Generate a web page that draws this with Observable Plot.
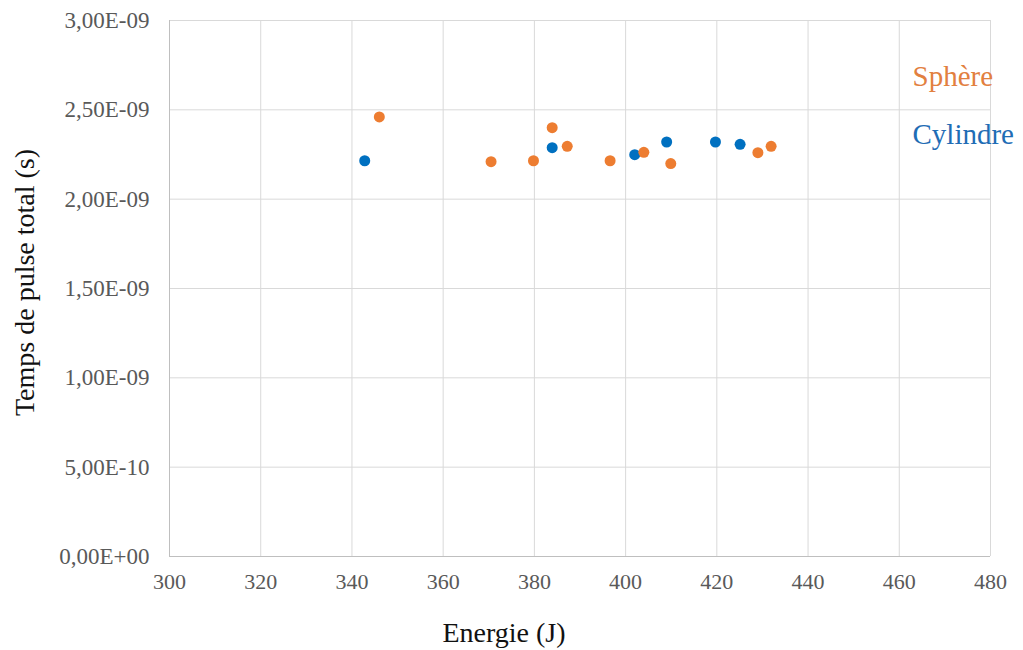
<!DOCTYPE html>
<html>
<head>
<meta charset="utf-8">
<script src="https://cdn.jsdelivr.net/npm/d3@7"></script>
<script src="https://cdn.jsdelivr.net/npm/@observablehq/plot@0.6"></script>
<style>
  html, body { margin: 0; padding: 0; background: #fff; }
  #chart { width: 1023px; height: 650px; }
  #chart svg, #chart svg text { font-family: "Liberation Serif", "Times New Roman", serif !important; }
</style>
</head>
<body>
<div id="chart"></div>
<script>
// Series: Sphère (orange)
const sphereEnergy = [346.0, 370.5, 379.8, 383.9, 387.2, 396.6, 404.0, 409.9, 429.0, 431.9];
const sphereTime   = [2.46e-9, 2.21e-9, 2.215e-9, 2.40e-9, 2.296e-9, 2.215e-9, 2.262e-9, 2.199e-9, 2.26e-9, 2.296e-9];
// Series: Cylindre (blue)
const cylEnergy = [342.8, 383.9, 402.0, 409.0, 419.7, 425.1];
const cylTime   = [2.215e-9, 2.288e-9, 2.249e-9, 2.32e-9, 2.32e-9, 2.307e-9];

// Axis ticks
const xTicks = [300, 320, 340, 360, 380, 400, 420, 440, 460, 480];
const yTicks = [0, 5e-10, 1e-9, 1.5e-9, 2e-9, 2.5e-9, 3e-9];
const yTickLabels = ["0,00E+00", "5,00E-10", "1,00E-09", "1,50E-09", "2,00E-09", "2,50E-09", "3,00E-09"];

const seriesNames = ["Sphère", "Cylindre"];
const seriesColors = ["#ED7D31", "#0070C0"];
const legendColors = ["#E2803F", "#1F6DB5"];

const xTitle = "Energie (J)";
const yTitle = "Temps de pulse total (s)";

const sphere = sphereEnergy.map((e, i) => ({energy: e, time: sphereTime[i]}));
const cyl = cylEnergy.map((e, i) => ({energy: e, time: cylTime[i]}));

const font = "Liberation Serif";

const chart = Plot.plot({
  width: 1023,
  height: 650,
  marginLeft: 169,
  marginRight: 33,
  marginTop: 20,
  marginBottom: 94,
  style: {fontFamily: font, background: "#fff", overflow: "visible"},
  x: {domain: [300, 480], ticks: xTicks},
  y: {domain: [0, 3e-9], ticks: yTicks},
  marks: [
    Plot.gridX(xTicks, {stroke: "#d9d9d9", strokeOpacity: 1, strokeWidth: 1}),
    Plot.gridY(yTicks, {stroke: "#d9d9d9", strokeOpacity: 1, strokeWidth: 1}),
    Plot.ruleX([300], {stroke: "#bfbfbf", strokeWidth: 1}),
    Plot.ruleY([0], {stroke: "#bfbfbf", strokeWidth: 1}),
    Plot.axisX(xTicks, {tickSize: 0, tickPadding: 17, fontSize: 22, fontFamily: font, fill: "#595959", label: null}),
    Plot.axisY(yTicks, {tickSize: 0, tickPadding: 20, fontSize: 23, fontFamily: font, fill: "#595959", label: null,
      tickFormat: (d) => yTickLabels[yTicks.indexOf(d)]}),
    Plot.dot(cyl, {x: "energy", y: "time", r: 5.5, fill: seriesColors[1], stroke: null}),
    Plot.dot(sphere, {x: "energy", y: "time", r: 5.5, fill: seriesColors[0], stroke: null}),
    Plot.text([seriesNames[0]], {frameAnchor: "top-right", text: d => d, textAnchor: "start", fontFamily: font,
      lineAnchor: "middle", dx: -78, dy: 56, fontSize: 29, fill: legendColors[0]}),
    Plot.text([seriesNames[1]], {frameAnchor: "top-right", text: d => d, textAnchor: "start", fontFamily: font,
      lineAnchor: "middle", dx: -78, dy: 114, fontSize: 29, fill: legendColors[1]}),
    Plot.text([xTitle], {frameAnchor: "bottom", text: d => d, textAnchor: "middle", fontFamily: font,
      lineAnchor: "middle", dx: -76, dy: 77, fontSize: 28, fill: "#111"}),
    Plot.text([yTitle], {frameAnchor: "left", text: d => d, textAnchor: "middle", fontFamily: font,
      lineAnchor: "middle", rotate: -90, dx: -144, dy: -6, fontSize: 28, fill: "#111"})
  ]
});
document.getElementById("chart").appendChild(chart);
</script>
</body>
</html>
